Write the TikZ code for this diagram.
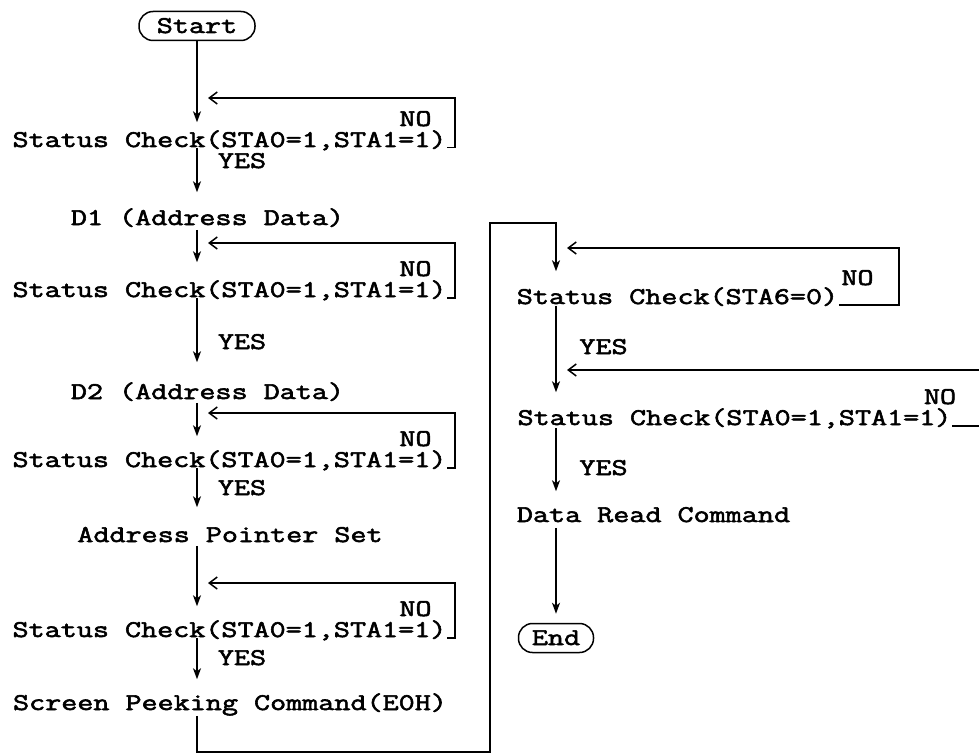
\documentclass[tikz,border=0pt]{standalone}
\usepackage{fontspec}
\newfontfamily\chkfont{Latin Modern Mono}[FakeStretch=1.3,FakeBold=2.4]
\usetikzlibrary{arrows.meta}

\begin{document}
\begin{tikzpicture}[x=1pt,y=-1pt,line width=1.5pt,
	txt/.style={font={\chkfont\fontsize{24}{27}\selectfont},inner sep=0pt,text height=14pt,text depth=0pt},
	term/.style={txt,draw,rounded corners=14pt,minimum height=29pt},
	flow/.style={-{Stealth[length=11pt,width=8pt,inset=3pt]}},
	back/.style={-{Straight Barb[length=8pt,width=12pt]}}]
	\useasboundingbox (0,0) rectangle (979,754);
	\node[term,minimum width=116pt] (start) at (197,26) {Start};
	\node[txt] (sc1) at (229.5,140) {Status Check(STA0=1,STA1=1)};
	\node[txt] (no1) at (415.5,119) {NO};
	\node[txt] (yes1) at (242,161) {YES};
	\node[txt] (d1) at (207.5,218) {D1 (Address Data)};
	\node[txt] (sc2) at (229.5,290) {Status Check(STA0=1,STA1=1)};
	\node[txt] (no2) at (415.5,269) {NO};
	\node[txt] (yes2) at (242,342) {YES};
	\node[txt] (d2) at (207.5,392) {D2 (Address Data)};
	\node[txt] (sc3) at (229.5,460) {Status Check(STA0=1,STA1=1)};
	\node[txt] (no3) at (415.5,439) {NO};
	\node[txt] (yes3) at (242,488) {YES};
	\node[txt] (aps) at (230,535) {Address Pointer Set};
	\node[txt] (sc4) at (229.5,630) {Status Check(STA0=1,STA1=1)};
	\node[txt] (no4) at (415.5,609) {NO};
	\node[txt] (yes4) at (242,658) {YES};
	\node[txt] (spc) at (230,703) {Screen Peeking Command(E0H)};
	\node[txt] (rsc1) at (677.5,297) {Status Check(STA6=0)};
	\node[txt] (no5) at (857.5,278) {NO};
	\node[txt] (yes5) at (603.5,347) {YES};
	\node[txt] (rsc2) at (734.5,418) {Status Check(STA0=1,STA1=1)};
	\node[txt] (no6) at (940,397) {NO};
	\node[txt] (yes6) at (603.5,468) {YES};
	\node[txt] (drc) at (653.5,515) {Data Read Command};
	\node[term,minimum width=75pt] (stop) at (556,638) {End};
	\coordinate (l1) at (208,98);
	\coordinate (l2) at (208,243);
	\coordinate (l3) at (208,413);
	\coordinate (l4) at (208,583);
	\coordinate (r1) at (567,248);
	\coordinate (r2) at (567,370);
	\coordinate (b1) at (197,752);
	\coordinate (b2) at (490,752);
	\coordinate (b3) at (490,223);
	\coordinate (b4) at (556,223);
	\draw[flow,shorten >=10pt] (start.south) -- (start |- sc1.north);
	\draw[flow,shorten >=18pt] (start |- sc1.south) -- (start |- d1.north);
	\draw[flow,shorten <=4pt,shorten >=20pt] (start |- d1.south) -- (start |- sc2.north);
	\draw[flow,shorten >=22pt] (start |- sc2.south) -- (start |- d2.north);
	\draw[flow,shorten <=3pt,shorten >=16pt] (start |- d2.south) -- (start |- sc3.north);
	\draw[flow,shorten >=20pt] (start |- sc3.south) -- (start |- aps.north);
	\draw[flow,shorten <=3pt,shorten >=16pt] (start |- aps.south) -- (start |- sc4.north);
	\draw[flow,shorten >=16pt] (start |- sc4.south) -- (start |- spc.north);
	\draw[flow,shorten <=5pt,shorten >=18pt] (start |- spc.south) -- (b1) -- (b2) -- (b3) -- (b4) -- (b4 |- rsc1.north);
	\draw[flow,shorten <=1pt,shorten >=18pt] (stop |- rsc1.south) -- (stop |- rsc2.north);
	\draw[flow,shorten <=2pt,shorten >=16pt] (stop |- rsc2.south) -- (stop |- drc.north);
	\draw[flow,shorten <=5pt,shorten >=9pt] (stop |- drc.south) -- (stop.north);
	\draw[back] (sc1.south east) -- ++(8,0) |- (l1);
	\draw[back] (sc2.south east) -- ++(8,0) |- (l2);
	\draw[back] (sc3.south east) -- ++(8,0) |- (l3);
	\draw[back] (sc4.south east) -- ++(8,0) |- (l4);
	\draw[back] (rsc1.south east) -- ++(60,0) |- (r1);
	\draw[back] (rsc2.south east) -- ++(40,0) |- (r2);
\end{tikzpicture}
\end{document}
